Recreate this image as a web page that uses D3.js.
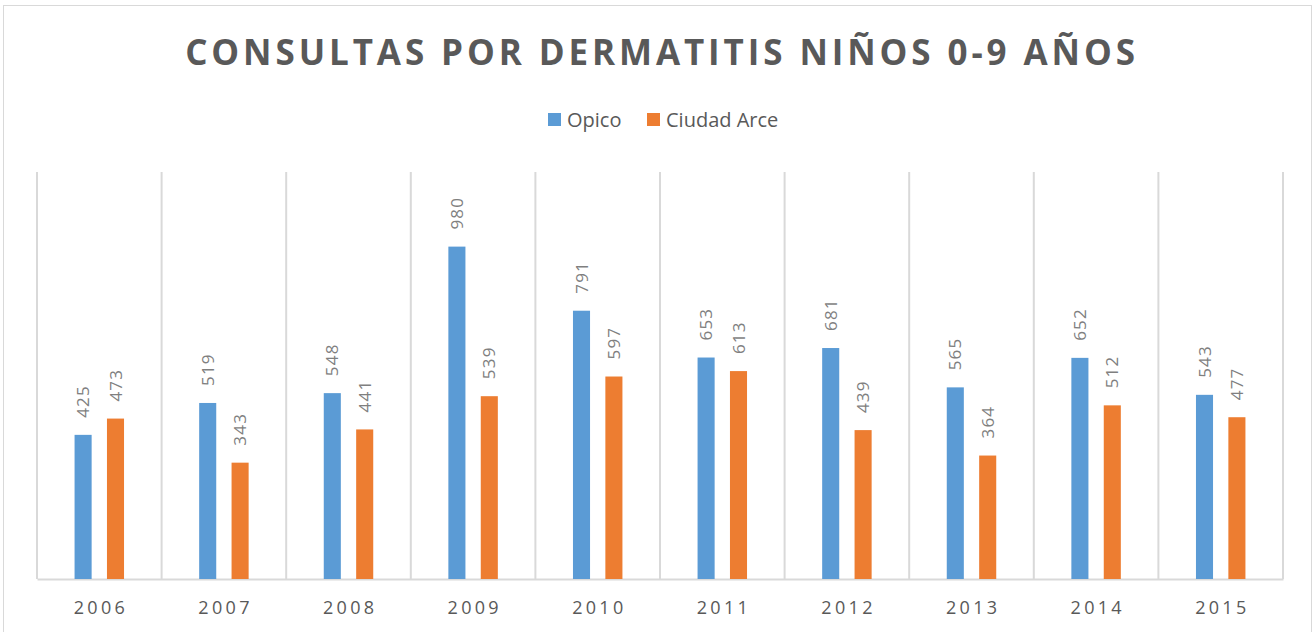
<!DOCTYPE html>
<html>
<head>
<meta charset="utf-8">
<script src="https://cdn.jsdelivr.net/npm/d3@7"></script>
<style>
  body { margin: 0; background: #fff; }
  text { font-family: "Open Sans", sans-serif; }
</style>
</head>
<body>
<div class="chart"></div>
<script>
const years = ["2006","2007","2008","2009","2010","2011","2012","2013","2014","2015"];
const opico = [425, 519, 548, 980, 791, 653, 681, 565, 652, 543];
const ciudadArce = [473, 343, 441, 539, 597, 613, 439, 364, 512, 477];
const seriesNames = ["Opico", "Ciudad Arce"];
const colors = ["#5b9bd5", "#ed7d31"];

const W = 1313, H = 632;
const margin = {top: 172, right: 30, bottom: 53, left: 37};

const svg = d3.select(".chart").append("svg")
    .attr("width", W)
    .attr("height", H);

// chart frame
svg.append("rect")
    .attr("x", 3.5).attr("y", 5.5)
    .attr("width", 1308).attr("height", 660)
    .attr("fill", "#fff")
    .attr("stroke", "#d9d9d9");

const x = d3.scaleBand().domain(years).range([margin.left, W - margin.right]);
const y = d3.scaleLinear().domain([0, 1200]).range([H - margin.bottom, margin.top]);

const bw = x.bandwidth() * 0.137;
const off = x.bandwidth() * 0.13;

// vertical grid lines at category edges
const edges = years.map(d => x(d)).concat([x.range()[1]]);
svg.selectAll(".grid").data(edges).enter().append("line")
    .attr("x1", d => d).attr("x2", d => d)
    .attr("y1", y(1200)).attr("y2", y(0))
    .attr("stroke", "#d9d9d9").attr("stroke-width", 2);

// x axis
const xAxis = svg.append("g")
    .attr("transform", "translate(0," + y(0) + ")")
    .call(d3.axisBottom(x).tickSize(0).tickPadding(22));
xAxis.select(".domain").attr("stroke", "#d9d9d9").attr("stroke-width", 2);
xAxis.selectAll("text")
    .attr("font-size", 18)
    .attr("fill", "#595959")
    .attr("letter-spacing", "3.3px")
    .attr("dx", "1.65px");

const rows = years.map((yr, i) => ({year: yr, vals: [opico[i], ciudadArce[i]]}));

const groups = svg.selectAll(".grp").data(rows).enter().append("g")
    .attr("transform", d => "translate(" + (x(d.year) + x.bandwidth()/2) + ",0)");

groups.selectAll("rect").data(d => d.vals).enter().append("rect")
    .attr("x", (d, i) => (i === 0 ? -off : off) - bw/2)
    .attr("width", bw)
    .attr("y", d => y(d))
    .attr("height", d => y(0) - y(d))
    .attr("fill", (d, i) => colors[i]);

// value labels, rotated
groups.selectAll(".lbl").data(d => d.vals).enter().append("text")
    .attr("transform", (d, i) => "translate(" + (i === 0 ? -off : off) + "," + (y(d) - 17) + ") rotate(-90)")
    .attr("dy", "0.36em")
    .attr("font-size", 17)
    .attr("letter-spacing", "1.2px")
    .attr("fill", "#7f7f7f")
    .text(d => d);

// title
svg.append("text")
    .attr("x", 662).attr("y", 65)
    .attr("text-anchor", "middle")
    .attr("font-size", 35)
    .attr("font-weight", "bold")
    .attr("letter-spacing", "3.9px")
    .attr("fill", "#595959")
    .text("CONSULTAS POR DERMATITIS NIÑOS 0-9 AÑOS");

// legend
const legendX = [548, 647];
seriesNames.forEach((name, i) => {
  svg.append("rect")
      .attr("x", legendX[i]).attr("y", 113)
      .attr("width", 13).attr("height", 13)
      .attr("fill", colors[i]);
  svg.append("text")
      .attr("x", legendX[i] + 19).attr("y", 127)
      .attr("font-size", 20)
      .attr("fill", "#595959")
      .text(name);
});
</script>
</body>
</html>
